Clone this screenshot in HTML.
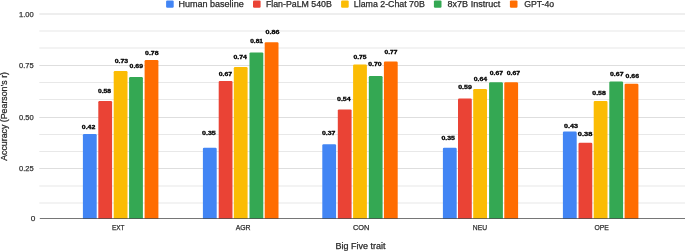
<!DOCTYPE html><html><head><meta charset="utf-8"><style>html,body{margin:0;padding:0;background:#fff}svg{display:block;will-change:transform;opacity:0.999}text{font-family:"Liberation Sans",sans-serif}.t{stroke:#333;stroke-width:0.25px}</style></head><body>
<svg width="685" height="251" viewBox="0 0 685 251">
<rect width="685" height="251" fill="#fff"/>
<rect x="39.3" y="13.50" width="645.7" height="1" fill="#dedede"/>
<rect x="39.3" y="30.50" width="645.7" height="1" fill="#e8e8e8"/>
<rect x="39.3" y="47.50" width="645.7" height="1" fill="#e8e8e8"/>
<rect x="39.3" y="65.00" width="645.7" height="1" fill="#dedede"/>
<rect x="39.3" y="82.00" width="645.7" height="1" fill="#e8e8e8"/>
<rect x="39.3" y="99.00" width="645.7" height="1" fill="#e8e8e8"/>
<rect x="39.3" y="117.00" width="645.7" height="1" fill="#dedede"/>
<rect x="39.3" y="134.00" width="645.7" height="1" fill="#e8e8e8"/>
<rect x="39.3" y="151.00" width="645.7" height="1" fill="#e8e8e8"/>
<rect x="39.3" y="168.00" width="645.7" height="1" fill="#dedede"/>
<rect x="39.3" y="185.50" width="645.7" height="1" fill="#e8e8e8"/>
<rect x="39.3" y="202.50" width="645.7" height="1" fill="#e8e8e8"/>
<path d="M82.90 218.5 V135.20 Q82.90 134.00 84.10 134.00 H95.50 Q96.70 134.00 96.70 135.20 V218.5 Z" fill="#4285f4"/>
<path d="M98.30 218.5 V102.20 Q98.30 101.00 99.50 101.00 H110.90 Q112.10 101.00 112.10 102.20 V218.5 Z" fill="#ea4335"/>
<path d="M113.70 218.5 V72.25 Q113.70 71.05 114.90 71.05 H126.30 Q127.50 71.05 127.50 72.25 V218.5 Z" fill="#fbbc04"/>
<path d="M129.10 218.5 V78.20 Q129.10 77.00 130.30 77.00 H141.70 Q142.90 77.00 142.90 78.20 V218.5 Z" fill="#34a853"/>
<path d="M144.60 218.5 V61.20 Q144.60 60.00 145.80 60.00 H157.20 Q158.40 60.00 158.40 61.20 V218.5 Z" fill="#ff6d01"/>
<path d="M202.90 218.5 V149.00 Q202.90 147.80 204.10 147.80 H215.50 Q216.70 147.80 216.70 149.00 V218.5 Z" fill="#4285f4"/>
<path d="M218.70 218.5 V82.10 Q218.70 80.90 219.90 80.90 H231.30 Q232.50 80.90 232.50 82.10 V218.5 Z" fill="#ea4335"/>
<path d="M233.80 218.5 V68.30 Q233.80 67.10 235.00 67.10 H246.40 Q247.60 67.10 247.60 68.30 V218.5 Z" fill="#fbbc04"/>
<path d="M249.50 218.5 V53.60 Q249.50 52.40 250.70 52.40 H262.10 Q263.30 52.40 263.30 53.60 V218.5 Z" fill="#34a853"/>
<path d="M264.70 218.5 V43.40 Q264.70 42.20 265.90 42.20 H277.30 Q278.50 42.20 278.50 43.40 V218.5 Z" fill="#ff6d01"/>
<path d="M322.30 218.5 V145.50 Q322.30 144.30 323.50 144.30 H334.90 Q336.10 144.30 336.10 145.50 V218.5 Z" fill="#4285f4"/>
<path d="M337.80 218.5 V110.60 Q337.80 109.40 339.00 109.40 H350.40 Q351.60 109.40 351.60 110.60 V218.5 Z" fill="#ea4335"/>
<path d="M353.10 218.5 V65.80 Q353.10 64.60 354.30 64.60 H365.70 Q366.90 64.60 366.90 65.80 V218.5 Z" fill="#fbbc04"/>
<path d="M368.80 218.5 V77.30 Q368.80 76.10 370.00 76.10 H381.40 Q382.60 76.10 382.60 77.30 V218.5 Z" fill="#34a853"/>
<path d="M383.90 218.5 V62.70 Q383.90 61.50 385.10 61.50 H396.50 Q397.70 61.50 397.70 62.70 V218.5 Z" fill="#ff6d01"/>
<path d="M442.90 218.5 V149.00 Q442.90 147.80 444.10 147.80 H455.50 Q456.70 147.80 456.70 149.00 V218.5 Z" fill="#4285f4"/>
<path d="M458.00 218.5 V99.70 Q458.00 98.50 459.20 98.50 H470.60 Q471.80 98.50 471.80 99.70 V218.5 Z" fill="#ea4335"/>
<path d="M473.20 218.5 V90.20 Q473.20 89.00 474.40 89.00 H485.80 Q487.00 89.00 487.00 90.20 V218.5 Z" fill="#fbbc04"/>
<path d="M489.10 218.5 V83.40 Q489.10 82.20 490.30 82.20 H501.70 Q502.90 82.20 502.90 83.40 V218.5 Z" fill="#34a853"/>
<path d="M504.30 218.5 V83.40 Q504.30 82.20 505.50 82.20 H516.90 Q518.10 82.20 518.10 83.40 V218.5 Z" fill="#ff6d01"/>
<path d="M562.90 218.5 V132.80 Q562.90 131.60 564.10 131.60 H575.50 Q576.70 131.60 576.70 132.80 V218.5 Z" fill="#4285f4"/>
<path d="M578.50 218.5 V144.00 Q578.50 142.80 579.70 142.80 H591.10 Q592.30 142.80 592.30 144.00 V218.5 Z" fill="#ea4335"/>
<path d="M593.70 218.5 V102.10 Q593.70 100.90 594.90 100.90 H606.30 Q607.50 100.90 607.50 102.10 V218.5 Z" fill="#fbbc04"/>
<path d="M609.30 218.5 V82.70 Q609.30 81.50 610.50 81.50 H621.90 Q623.10 81.50 623.10 82.70 V218.5 Z" fill="#34a853"/>
<path d="M624.60 218.5 V84.90 Q624.60 83.70 625.80 83.70 H637.20 Q638.40 83.70 638.40 84.90 V218.5 Z" fill="#ff6d01"/>
<rect x="39.8" y="218.1" width="645.2" height="0.9" fill="#000" fill-opacity="0.6"/>
<text x="81.80" y="128.70" font-size="5.7" font-weight="bold" fill="#fff" stroke="#fff" stroke-width="1.3" textLength="13.50" lengthAdjust="spacingAndGlyphs">0.42</text>
<text x="81.80" y="128.70" font-size="5.7" font-weight="bold" fill="#000" stroke="#000" stroke-width="0.3" textLength="13.50" lengthAdjust="spacingAndGlyphs">0.42</text>
<text x="98.00" y="93.10" font-size="5.7" font-weight="bold" fill="#fff" stroke="#fff" stroke-width="1.3" textLength="13.10" lengthAdjust="spacingAndGlyphs">0.58</text>
<text x="98.00" y="93.10" font-size="5.7" font-weight="bold" fill="#000" stroke="#000" stroke-width="0.3" textLength="13.10" lengthAdjust="spacingAndGlyphs">0.58</text>
<text x="114.70" y="63.20" font-size="5.7" font-weight="bold" fill="#fff" stroke="#fff" stroke-width="1.3" textLength="13.40" lengthAdjust="spacingAndGlyphs">0.73</text>
<text x="114.70" y="63.20" font-size="5.7" font-weight="bold" fill="#000" stroke="#000" stroke-width="0.3" textLength="13.40" lengthAdjust="spacingAndGlyphs">0.73</text>
<text x="129.60" y="67.70" font-size="5.7" font-weight="bold" fill="#fff" stroke="#fff" stroke-width="1.3" textLength="13.40" lengthAdjust="spacingAndGlyphs">0.69</text>
<text x="129.60" y="67.70" font-size="5.7" font-weight="bold" fill="#000" stroke="#000" stroke-width="0.3" textLength="13.40" lengthAdjust="spacingAndGlyphs">0.69</text>
<text x="145.10" y="55.00" font-size="5.7" font-weight="bold" fill="#fff" stroke="#fff" stroke-width="1.3" textLength="13.40" lengthAdjust="spacingAndGlyphs">0.78</text>
<text x="145.10" y="55.00" font-size="5.7" font-weight="bold" fill="#000" stroke="#000" stroke-width="0.3" textLength="13.40" lengthAdjust="spacingAndGlyphs">0.78</text>
<text x="202.00" y="135.10" font-size="5.7" font-weight="bold" fill="#fff" stroke="#fff" stroke-width="1.3" textLength="13.80" lengthAdjust="spacingAndGlyphs">0.35</text>
<text x="202.00" y="135.10" font-size="5.7" font-weight="bold" fill="#000" stroke="#000" stroke-width="0.3" textLength="13.80" lengthAdjust="spacingAndGlyphs">0.35</text>
<text x="218.70" y="76.20" font-size="5.7" font-weight="bold" fill="#fff" stroke="#fff" stroke-width="1.3" textLength="13.40" lengthAdjust="spacingAndGlyphs">0.67</text>
<text x="218.70" y="76.20" font-size="5.7" font-weight="bold" fill="#000" stroke="#000" stroke-width="0.3" textLength="13.40" lengthAdjust="spacingAndGlyphs">0.67</text>
<text x="233.50" y="59.10" font-size="5.7" font-weight="bold" fill="#fff" stroke="#fff" stroke-width="1.3" textLength="13.40" lengthAdjust="spacingAndGlyphs">0.74</text>
<text x="233.50" y="59.10" font-size="5.7" font-weight="bold" fill="#000" stroke="#000" stroke-width="0.3" textLength="13.40" lengthAdjust="spacingAndGlyphs">0.74</text>
<text x="250.20" y="42.60" font-size="5.7" font-weight="bold" fill="#fff" stroke="#fff" stroke-width="1.3" textLength="12.80" lengthAdjust="spacingAndGlyphs">0.81</text>
<text x="250.20" y="42.60" font-size="5.7" font-weight="bold" fill="#000" stroke="#000" stroke-width="0.3" textLength="12.80" lengthAdjust="spacingAndGlyphs">0.81</text>
<text x="265.60" y="33.60" font-size="5.7" font-weight="bold" fill="#fff" stroke="#fff" stroke-width="1.3" textLength="13.90" lengthAdjust="spacingAndGlyphs">0.86</text>
<text x="265.60" y="33.60" font-size="5.7" font-weight="bold" fill="#000" stroke="#000" stroke-width="0.3" textLength="13.90" lengthAdjust="spacingAndGlyphs">0.86</text>
<text x="322.00" y="135.20" font-size="5.7" font-weight="bold" fill="#fff" stroke="#fff" stroke-width="1.3" textLength="13.40" lengthAdjust="spacingAndGlyphs">0.37</text>
<text x="322.00" y="135.20" font-size="5.7" font-weight="bold" fill="#000" stroke="#000" stroke-width="0.3" textLength="13.40" lengthAdjust="spacingAndGlyphs">0.37</text>
<text x="337.00" y="100.80" font-size="5.7" font-weight="bold" fill="#fff" stroke="#fff" stroke-width="1.3" textLength="13.70" lengthAdjust="spacingAndGlyphs">0.54</text>
<text x="337.00" y="100.80" font-size="5.7" font-weight="bold" fill="#000" stroke="#000" stroke-width="0.3" textLength="13.70" lengthAdjust="spacingAndGlyphs">0.54</text>
<text x="353.40" y="59.40" font-size="5.7" font-weight="bold" fill="#fff" stroke="#fff" stroke-width="1.3" textLength="13.10" lengthAdjust="spacingAndGlyphs">0.75</text>
<text x="353.40" y="59.40" font-size="5.7" font-weight="bold" fill="#000" stroke="#000" stroke-width="0.3" textLength="13.10" lengthAdjust="spacingAndGlyphs">0.75</text>
<text x="368.30" y="65.60" font-size="5.7" font-weight="bold" fill="#fff" stroke="#fff" stroke-width="1.3" textLength="13.40" lengthAdjust="spacingAndGlyphs">0.70</text>
<text x="368.30" y="65.60" font-size="5.7" font-weight="bold" fill="#000" stroke="#000" stroke-width="0.3" textLength="13.40" lengthAdjust="spacingAndGlyphs">0.70</text>
<text x="384.50" y="53.90" font-size="5.7" font-weight="bold" fill="#fff" stroke="#fff" stroke-width="1.3" textLength="12.90" lengthAdjust="spacingAndGlyphs">0.77</text>
<text x="384.50" y="53.90" font-size="5.7" font-weight="bold" fill="#000" stroke="#000" stroke-width="0.3" textLength="12.90" lengthAdjust="spacingAndGlyphs">0.77</text>
<text x="441.40" y="140.20" font-size="5.7" font-weight="bold" fill="#fff" stroke="#fff" stroke-width="1.3" textLength="13.50" lengthAdjust="spacingAndGlyphs">0.35</text>
<text x="441.40" y="140.20" font-size="5.7" font-weight="bold" fill="#000" stroke="#000" stroke-width="0.3" textLength="13.50" lengthAdjust="spacingAndGlyphs">0.35</text>
<text x="458.20" y="89.00" font-size="5.7" font-weight="bold" fill="#fff" stroke="#fff" stroke-width="1.3" textLength="13.70" lengthAdjust="spacingAndGlyphs">0.59</text>
<text x="458.20" y="89.00" font-size="5.7" font-weight="bold" fill="#000" stroke="#000" stroke-width="0.3" textLength="13.70" lengthAdjust="spacingAndGlyphs">0.59</text>
<text x="473.80" y="81.30" font-size="5.7" font-weight="bold" fill="#fff" stroke="#fff" stroke-width="1.3" textLength="13.40" lengthAdjust="spacingAndGlyphs">0.64</text>
<text x="473.80" y="81.30" font-size="5.7" font-weight="bold" fill="#000" stroke="#000" stroke-width="0.3" textLength="13.40" lengthAdjust="spacingAndGlyphs">0.64</text>
<text x="489.80" y="75.30" font-size="5.7" font-weight="bold" fill="#fff" stroke="#fff" stroke-width="1.3" textLength="13.20" lengthAdjust="spacingAndGlyphs">0.67</text>
<text x="489.80" y="75.30" font-size="5.7" font-weight="bold" fill="#000" stroke="#000" stroke-width="0.3" textLength="13.20" lengthAdjust="spacingAndGlyphs">0.67</text>
<text x="506.80" y="75.30" font-size="5.7" font-weight="bold" fill="#fff" stroke="#fff" stroke-width="1.3" textLength="13.40" lengthAdjust="spacingAndGlyphs">0.67</text>
<text x="506.80" y="75.30" font-size="5.7" font-weight="bold" fill="#000" stroke="#000" stroke-width="0.3" textLength="13.40" lengthAdjust="spacingAndGlyphs">0.67</text>
<text x="564.10" y="127.50" font-size="5.7" font-weight="bold" fill="#fff" stroke="#fff" stroke-width="1.3" textLength="14.00" lengthAdjust="spacingAndGlyphs">0.43</text>
<text x="564.10" y="127.50" font-size="5.7" font-weight="bold" fill="#000" stroke="#000" stroke-width="0.3" textLength="14.00" lengthAdjust="spacingAndGlyphs">0.43</text>
<text x="577.80" y="135.90" font-size="5.7" font-weight="bold" fill="#fff" stroke="#fff" stroke-width="1.3" textLength="14.50" lengthAdjust="spacingAndGlyphs">0.38</text>
<text x="577.80" y="135.90" font-size="5.7" font-weight="bold" fill="#000" stroke="#000" stroke-width="0.3" textLength="14.50" lengthAdjust="spacingAndGlyphs">0.38</text>
<text x="592.30" y="95.10" font-size="5.7" font-weight="bold" fill="#fff" stroke="#fff" stroke-width="1.3" textLength="13.50" lengthAdjust="spacingAndGlyphs">0.58</text>
<text x="592.30" y="95.10" font-size="5.7" font-weight="bold" fill="#000" stroke="#000" stroke-width="0.3" textLength="13.50" lengthAdjust="spacingAndGlyphs">0.58</text>
<text x="610.00" y="76.30" font-size="5.7" font-weight="bold" fill="#fff" stroke="#fff" stroke-width="1.3" textLength="13.50" lengthAdjust="spacingAndGlyphs">0.67</text>
<text x="610.00" y="76.30" font-size="5.7" font-weight="bold" fill="#000" stroke="#000" stroke-width="0.3" textLength="13.50" lengthAdjust="spacingAndGlyphs">0.67</text>
<text x="625.60" y="78.20" font-size="5.7" font-weight="bold" fill="#fff" stroke="#fff" stroke-width="1.3" textLength="13.40" lengthAdjust="spacingAndGlyphs">0.66</text>
<text x="625.60" y="78.20" font-size="5.7" font-weight="bold" fill="#000" stroke="#000" stroke-width="0.3" textLength="13.40" lengthAdjust="spacingAndGlyphs">0.66</text>
<text x="19.0" y="16.60" class="t" font-size="7.9" fill="#333" textLength="14.7" lengthAdjust="spacingAndGlyphs">1.00</text>
<text x="19.0" y="67.90" class="t" font-size="7.9" fill="#333" textLength="14.7" lengthAdjust="spacingAndGlyphs">0.75</text>
<text x="19.0" y="119.90" class="t" font-size="7.9" fill="#333" textLength="14.7" lengthAdjust="spacingAndGlyphs">0.50</text>
<text x="19.0" y="171.00" class="t" font-size="7.9" fill="#333" textLength="14.7" lengthAdjust="spacingAndGlyphs">0.25</text>
<text x="30.7" y="220.90" class="t" font-size="7.9" fill="#333" textLength="4.6" lengthAdjust="spacingAndGlyphs">0</text>
<text x="111.9" y="229.8" class="t" font-size="8.0" fill="#222" textLength="12.50" lengthAdjust="spacingAndGlyphs">EXT</text>
<text x="235.7" y="229.8" class="t" font-size="8.0" fill="#222" textLength="14.90" lengthAdjust="spacingAndGlyphs">AGR</text>
<text x="353.0" y="229.8" class="t" font-size="8.0" fill="#222" textLength="16.40" lengthAdjust="spacingAndGlyphs">CON</text>
<text x="472.8" y="229.8" class="t" font-size="8.0" fill="#222" textLength="14.20" lengthAdjust="spacingAndGlyphs">NEU</text>
<text x="594.6" y="229.8" class="t" font-size="8.0" fill="#222" textLength="14.30" lengthAdjust="spacingAndGlyphs">OPE</text>
<text x="335.6" y="248.9" class="t" font-size="8.2" fill="#222" textLength="50" lengthAdjust="spacingAndGlyphs">Big Five trait</text>
<text transform="translate(6.6 160.8) rotate(-90)" class="t" font-size="8.5" fill="#222" textLength="88.8" lengthAdjust="spacingAndGlyphs">Accuracy (Pearson’s r)</text>
<rect x="166.1" y="0.4" width="7.6" height="7.4" rx="1.2" fill="#4285f4"/>
<text x="178.4" y="6.5" class="t" font-size="8.3" fill="#222" textLength="65.30" lengthAdjust="spacingAndGlyphs">Human baseline</text>
<rect x="253.0" y="0.4" width="7.6" height="7.4" rx="1.2" fill="#ea4335"/>
<text x="265.9" y="6.5" class="t" font-size="8.3" fill="#222" textLength="65.90" lengthAdjust="spacingAndGlyphs">Flan-PaLM 540B</text>
<rect x="341.1" y="0.4" width="7.6" height="7.4" rx="1.2" fill="#fbbc04"/>
<text x="353.8" y="6.5" class="t" font-size="8.3" fill="#222" textLength="71.00" lengthAdjust="spacingAndGlyphs">Llama 2-Chat 70B</text>
<rect x="433.9" y="0.4" width="7.6" height="7.4" rx="1.2" fill="#34a853"/>
<text x="447.6" y="6.5" class="t" font-size="8.3" fill="#222" textLength="52.60" lengthAdjust="spacingAndGlyphs">8x7B Instruct</text>
<rect x="509.9" y="0.4" width="7.6" height="7.4" rx="1.2" fill="#ff6d01"/>
<text x="524.2" y="6.5" class="t" font-size="8.3" fill="#222" textLength="30.00" lengthAdjust="spacingAndGlyphs">GPT-4o</text>
</svg></body></html>
